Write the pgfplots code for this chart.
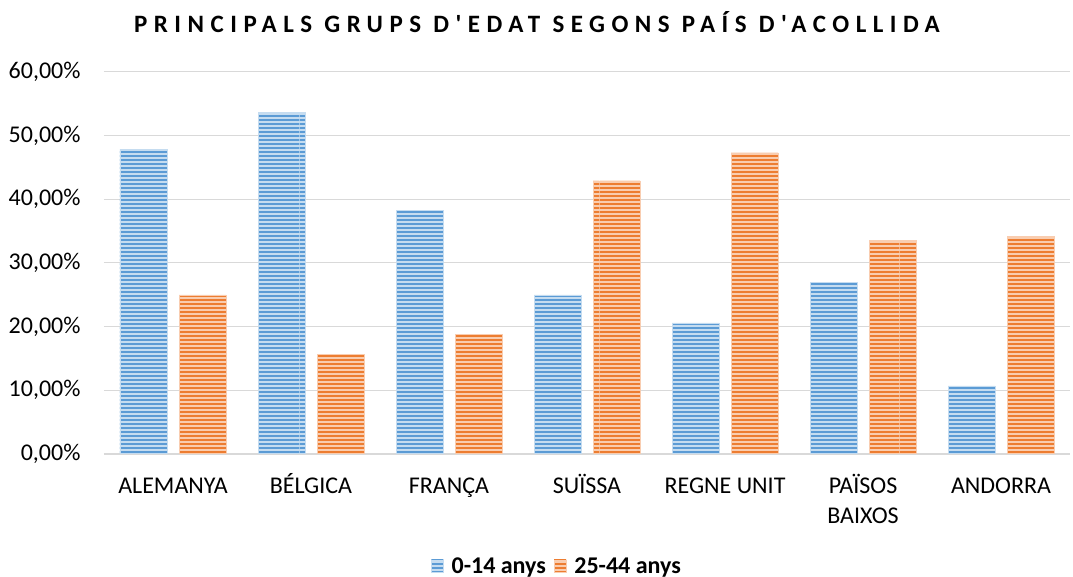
\documentclass[border=0pt]{standalone}
\usepackage{fontspec}
\setmainfont{Carlito}
\newfontfamily\titlefont{Carlito}[LetterSpace=26]
\usepackage{pgfplots}
\pgfplotsset{compat=1.18}
\usetikzlibrary{patterns}
\pgfdeclarepatternformonly{hstripes}{\pgfqpoint{0pt}{0pt}}{\pgfqpoint{300pt}{4pt}}{\pgfqpoint{300pt}{4pt}}{%
  \pgfpathrectangle{\pgfqpoint{0pt}{0pt}}{\pgfqpoint{300pt}{2.2pt}}\pgfusepath{fill}}
\definecolor{blueD}{HTML}{5B9BD5}
\definecolor{blueL}{HTML}{C5DCF0}
\definecolor{orangeD}{HTML}{ED7D31}
\definecolor{orangeL}{HTML}{F9CDB0}
\definecolor{gridc}{HTML}{D9D9D9}
\newcommand\st{\rule{0pt}{20pt}}
\pgfplotstableread{
x a b
0 47.9 25.0
1 53.7 15.7
2 38.3 18.8
3 25.0 42.9
4 20.6 47.3
5 27.0 33.6
6 10.7 34.2
}\datatable
\begin{document}
\begin{tikzpicture}
\useasboundingbox (0,0) rectangle (1073pt,577pt);
\node[font=\fontsize{25}{28}\selectfont\titlefont\bfseries] at (537pt,555pt) {PRINCIPALS GRUPS D'EDAT SEGONS PAÍS D'ACOLLIDA};
\begin{axis}[
  at={(104pt,123pt)}, anchor=south west,
  scale only axis, width=966pt, height=382pt,
  ybar=12pt, bar width=47pt,
  xmin=-0.5, xmax=6.5, ymin=0, ymax=60,
  xtick=data,
  xticklabels={\st ALEMANYA,\st BÉLGICA,\st FRANÇA,\st SUÏSSA,\st REGNE UNIT,{\st PAÏSOS\\BAIXOS},\st ANDORRA},
  xticklabel style={align=center, anchor=north, yshift=-16pt, font=\fontsize{24}{30}\selectfont},
  ytick={0,10,...,60},
  yticklabel={\pgfmathprintnumber[fixed,fixed zerofill,precision=2,use comma]{\tick}\%},
  yticklabel style={font=\fontsize{24}{27}\selectfont, xshift=-20pt},
  /pgf/number format/assume math mode=true,
  major tick length=0pt,
  axis x line*=bottom,
  axis y line*=left,
  y axis line style={draw=none},
  x axis line style={draw=gridc, line width=1.5pt, -},
  ymajorgrids, grid style={draw=gridc, line width=1pt},
  axis line style={-},
  legend columns=2,
  legend style={at={(0.469,-0.293)}, anchor=center, draw=none, font=\fontsize{24}{27}\selectfont\bfseries, column sep=6pt},
  legend image code/.code={\fill[#1] (0pt,-6pt) rectangle (12pt,6pt);},
]
\addplot[fill=blueL, draw=blueL, postaction={pattern=hstripes, pattern color=blueD}] table[x=x,y=a] {\datatable};
\addplot[fill=orangeL, draw=orangeL, postaction={pattern=hstripes, pattern color=orangeD}] table[x=x,y=b] {\datatable};
\legend{0-14 anys\hspace{30pt},25-44 anys}
\end{axis}
\end{tikzpicture}
\end{document}
